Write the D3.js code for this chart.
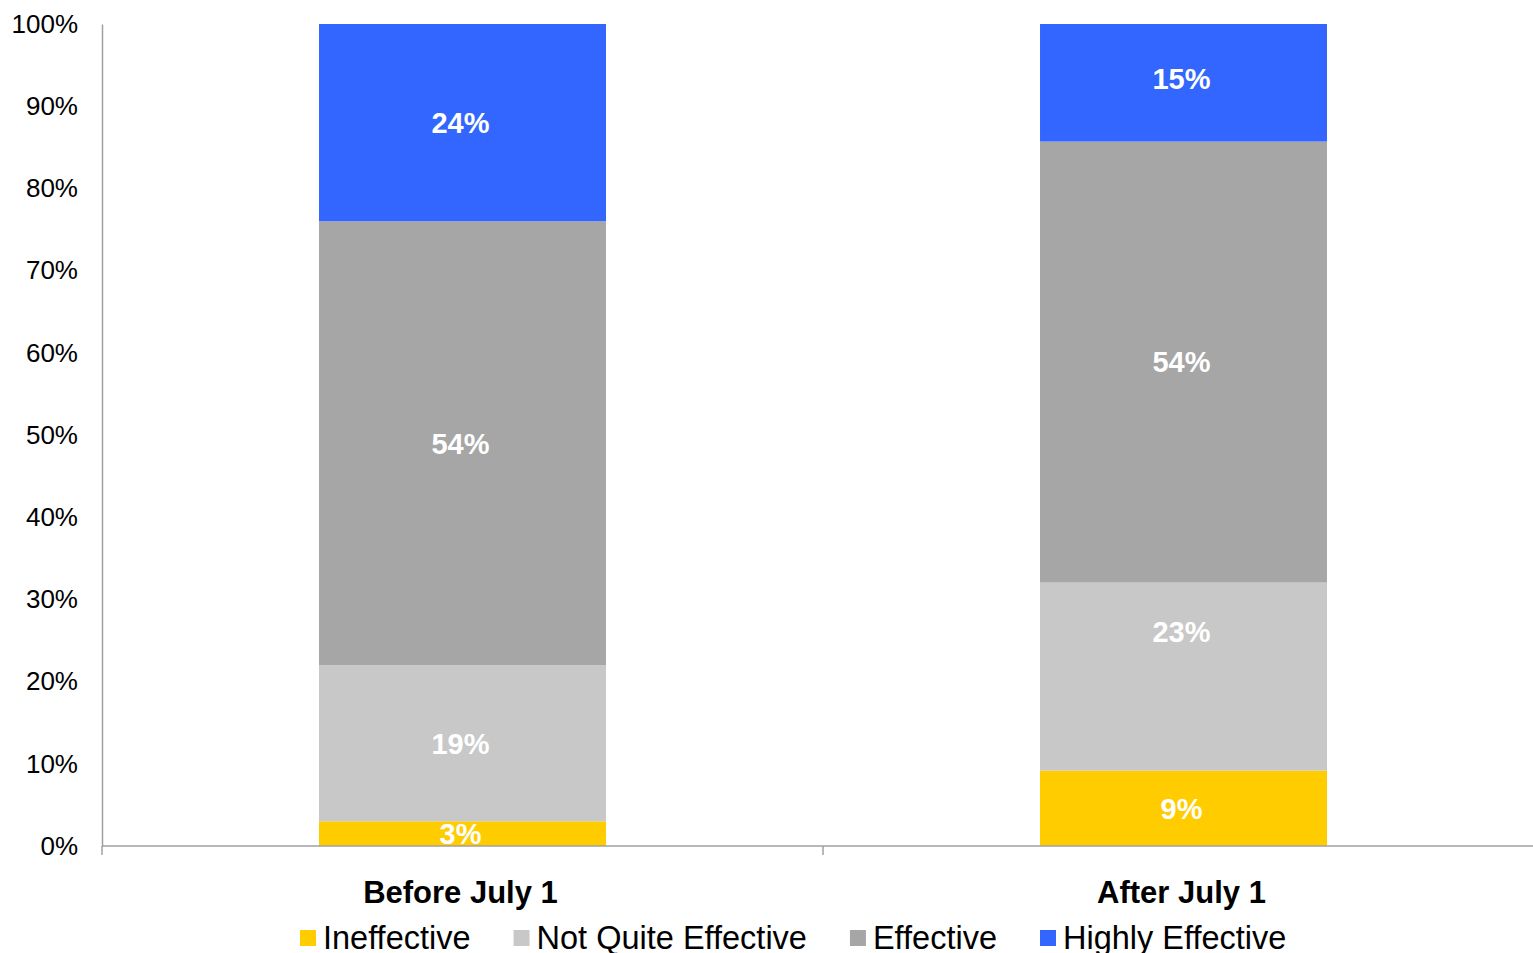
<!DOCTYPE html>
<html>
<head>
<meta charset="utf-8">
<script src="https://cdn.jsdelivr.net/npm/d3@7"></script>
<style>
  html, body { margin: 0; padding: 0; background: #fff; overflow: hidden; }
  svg { display: block; font-family: "Liberation Sans", Arial, sans-serif; }
</style>
</head>
<body>
<svg id="chart" width="1533" height="953"></svg>
<script>
// ---- data ----
const categories = ["Before July 1", "After July 1"];
const seriesNames = ["Ineffective", "Not Quite Effective", "Effective", "Highly Effective"];
const ineffective = [3, 9.3];
const notQuiteEffective = [19, 23.2];
const effective = [54, 54.4];
const highlyEffective = [24, 14.5];
const yTicks = [0, 0.1, 0.2, 0.3, 0.4, 0.5, 0.6, 0.7, 0.8, 0.9, 1.0];
const colors = ["#FFCC00", "#C8C8C8", "#A6A6A6", "#3366FF"];

(function () {
const seriesValues = [ineffective, notQuiteEffective, effective, highlyEffective];
const rows = categories.map((c, i) => {
  const r = { category: c };
  seriesNames.forEach((s, j) => r[s] = seriesValues[j][i]);
  return r;
});

// manual label nudges (pixels), as in the original chart
const labelNudge = { "After July 1|Not Quite Effective": -45, "After July 1|Highly Effective": -4 };

const svg = d3.select("#chart");
const mLeft = 102, mRight = 1544, mTop = 24, mBottom = 846;

const x = d3.scaleBand().domain(categories).range([mLeft, mRight])
  .paddingInner(0.602).paddingOuter(0.301);
const y = d3.scaleLinear().domain([0, 1]).range([mBottom, mTop]);

const stacked = d3.stack().keys(seriesNames).offset(d3.stackOffsetExpand)(rows);

// bars
const layers = svg.append("g").selectAll("g").data(stacked).join("g")
  .attr("fill", (d, i) => colors[i]);
layers.selectAll("rect").data(d => d.map(v => ({ v, key: d.key })))
  .join("rect")
  .attr("x", d => x(d.v.data.category))
  .attr("width", x.bandwidth())
  .attr("y", d => y(d.v[1]))
  .attr("height", d => y(d.v[0]) - y(d.v[1]));

// data labels
layers.selectAll("text").data(d => d.map(v => ({ v, key: d.key })))
  .join("text")
  .attr("x", d => x(d.v.data.category) + x.bandwidth() / 2 - 2)
  .attr("y", d => (y(d.v[0]) + y(d.v[1])) / 2 + (labelNudge[d.v.data.category + "|" + d.key] || 0))
  .attr("dy", "0.36em")
  .attr("text-anchor", "middle")
  .attr("fill", "#fff")
  .attr("font-weight", "bold")
  .attr("font-size", 29)
  .text(d => Math.round(d.v.data[d.key]) + "%");

// y axis
const yAxis = svg.append("g").attr("transform", `translate(${mLeft},0)`)
  .call(d3.axisLeft(y).tickValues(yTicks).tickSize(0).tickPadding(24)
    .tickFormat(d3.format(".0%")));
yAxis.select(".domain").attr("stroke", "#A0A0A0").attr("stroke-width", 1.5);
yAxis.selectAll("text").attr("font-size", 26).attr("fill", "#000")
  .attr("font-family", "Liberation Sans, Arial, sans-serif");

// x axis
const xAxisG = svg.append("g").attr("transform", `translate(0,${mBottom})`);
xAxisG.append("line").attr("x1", mLeft).attr("x2", mRight)
  .attr("stroke", "#A0A0A0").attr("stroke-width", 1.5);
const boundaries = d3.range(categories.length + 1).map(i => mLeft + i * (mRight - mLeft) / categories.length);
xAxisG.selectAll("line.tick").data(boundaries).join("line").attr("class", "tick")
  .attr("x1", d => d).attr("x2", d => d).attr("y1", 0).attr("y2", 9)
  .attr("stroke", "#A0A0A0").attr("stroke-width", 1.5);
xAxisG.selectAll("text").data(categories).join("text")
  .attr("x", d => x(d) + x.bandwidth() / 2 - 2)
  .attr("y", 46)
  .attr("dy", "0.36em")
  .attr("text-anchor", "middle")
  .attr("font-weight", "bold")
  .attr("font-size", 31)
  .attr("fill", "#000")
  .text(d => d);

// legend
const legend = svg.append("g").attr("transform", "translate(300,937)");
let cx = 0;
seriesNames.forEach((name, i) => {
  const g = legend.append("g").attr("transform", `translate(${cx},0)`);
  g.append("rect").attr("x", 0).attr("y", -7).attr("width", 16).attr("height", 16).attr("fill", colors[i]);
  const t = g.append("text").attr("x", 23).attr("y", 0).attr("dy", "0.36em")
    .attr("font-size", 32.5).attr("fill", "#000").text(name);
  cx += 23 + t.node().getComputedTextLength() + 43;
});
})();
</script>
</body>
</html>
